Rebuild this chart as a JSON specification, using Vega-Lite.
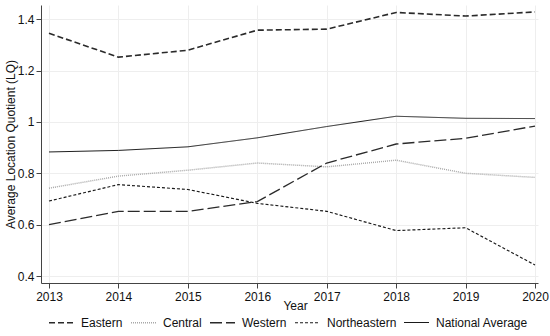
{
  "$schema": "https://vega.github.io/schema/vega-lite/v6.json",
  "width": 497,
  "height": 278,
  "autosize": {"type": "none"},
  "padding": {"left": 41, "top": 5, "right": 12, "bottom": 53},
  "background": "white",
  "config": {
    "font": "Liberation Sans",
    "view": {"stroke": null},
    "axis": {
      "labelFont": "Liberation Sans",
      "titleFont": "Liberation Sans",
      "labelFontSize": 12,
      "titleFontSize": 12,
      "titleFontWeight": "normal",
      "labelColor": "#111",
      "titleColor": "#111",
      "domainColor": "#444",
      "tickColor": "#444",
      "gridColor": "#eeeeee",
      "gridWidth": 1
    },
    "legend": {
      "labelFont": "Liberation Sans",
      "labelFontSize": 12,
      "labelColor": "#111",
      "title": null,
      "orient": "none",
      "direction": "horizontal",
      "columns": 5,
      "legendX": 7,
      "legendY": 304,
      "symbolType": "stroke",
      "symbolSize": 625,
      "labelOffset": 6,
      "columnPadding": 5
    }
  },
  "data": {
    "values": [
      {"year": 2013, "region": "Eastern", "lq": 1.345},
      {"year": 2014, "region": "Eastern", "lq": 1.252},
      {"year": 2015, "region": "Eastern", "lq": 1.279},
      {"year": 2016, "region": "Eastern", "lq": 1.357},
      {"year": 2017, "region": "Eastern", "lq": 1.361},
      {"year": 2018, "region": "Eastern", "lq": 1.426},
      {"year": 2019, "region": "Eastern", "lq": 1.412},
      {"year": 2020, "region": "Eastern", "lq": 1.428},
      {"year": 2013, "region": "Central", "lq": 0.742},
      {"year": 2014, "region": "Central", "lq": 0.789},
      {"year": 2015, "region": "Central", "lq": 0.812},
      {"year": 2016, "region": "Central", "lq": 0.840},
      {"year": 2017, "region": "Central", "lq": 0.825},
      {"year": 2018, "region": "Central", "lq": 0.851},
      {"year": 2019, "region": "Central", "lq": 0.800},
      {"year": 2020, "region": "Central", "lq": 0.784},
      {"year": 2013, "region": "Western", "lq": 0.600},
      {"year": 2014, "region": "Western", "lq": 0.652},
      {"year": 2015, "region": "Western", "lq": 0.652},
      {"year": 2016, "region": "Western", "lq": 0.690},
      {"year": 2017, "region": "Western", "lq": 0.840},
      {"year": 2018, "region": "Western", "lq": 0.914},
      {"year": 2019, "region": "Western", "lq": 0.936},
      {"year": 2020, "region": "Western", "lq": 0.984},
      {"year": 2013, "region": "Northeastern", "lq": 0.692},
      {"year": 2014, "region": "Northeastern", "lq": 0.756},
      {"year": 2015, "region": "Northeastern", "lq": 0.737},
      {"year": 2016, "region": "Northeastern", "lq": 0.683},
      {"year": 2017, "region": "Northeastern", "lq": 0.652},
      {"year": 2018, "region": "Northeastern", "lq": 0.577},
      {"year": 2019, "region": "Northeastern", "lq": 0.588},
      {"year": 2020, "region": "Northeastern", "lq": 0.443},
      {"year": 2013, "region": "National Average", "lq": 0.883},
      {"year": 2014, "region": "National Average", "lq": 0.889},
      {"year": 2015, "region": "National Average", "lq": 0.903},
      {"year": 2016, "region": "National Average", "lq": 0.938},
      {"year": 2017, "region": "National Average", "lq": 0.982},
      {"year": 2018, "region": "National Average", "lq": 1.022},
      {"year": 2019, "region": "National Average", "lq": 1.014},
      {"year": 2020, "region": "National Average", "lq": 1.013}
    ]
  },
  "mark": {"type": "line", "strokeCap": "butt"},
  "encoding": {
    "x": {
      "field": "year",
      "type": "quantitative",
      "scale": {"domain": [2012.885, 2020.043], "nice": false, "zero": false},
      "axis": {
        "title": "Year",
        "values": [2013, 2014, 2015, 2016, 2017, 2018, 2019, 2020],
        "format": "d",
        "labelPadding": 3,
        "tickSize": 5,
        "titleY": 17,
        "titleX": 254,
        "grid": true
      }
    },
    "y": {
      "field": "lq",
      "type": "quantitative",
      "scale": {"domain": [0.373, 1.455], "nice": false, "zero": false},
      "axis": {
        "title": "Average Location Quotient (LQ)",
        "values": [0.4, 0.6, 0.8, 1, 1.2, 1.4],
        "format": "~g",
        "tickSize": 5,
        "labelPadding": 2,
        "titlePadding": 0,
        "grid": true
      }
    },
    "strokeDash": {
      "field": "region",
      "type": "nominal",
      "scale": {
        "domain": ["Eastern", "Central", "Western", "Northeastern", "National Average"],
        "range": [[6, 3], [1, 1], [12, 4], [3, 2], [1, 0]]
      }
    },
    "color": {
      "field": "region",
      "type": "nominal",
      "scale": {
        "domain": ["Eastern", "Central", "Western", "Northeastern", "National Average"],
        "range": ["#2a2a2a", "#a8a8a8", "#2a2a2a", "#1a1a1a", "#1a1a1a"]
      }
    },
    "strokeWidth": {
      "field": "region",
      "type": "nominal",
      "scale": {
        "domain": ["Eastern", "Central", "Western", "Northeastern", "National Average"],
        "range": [1.6, 1, 1.5, 2.4, 1.4]
      }
    }
  }
}
